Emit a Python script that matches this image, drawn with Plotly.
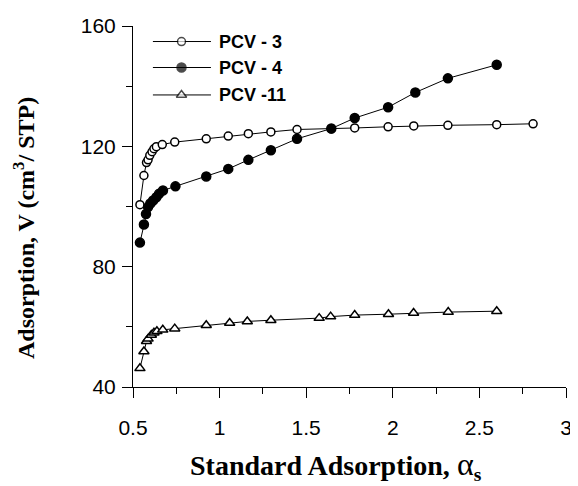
import plotly.graph_objects as go

# ---- data ----
pcv3_x = [0.54, 0.563, 0.578, 0.587, 0.597, 0.61, 0.621, 0.635, 0.669, 0.741, 0.923, 1.05, 1.166, 1.296, 1.447, 1.645, 1.78, 1.973, 2.121, 2.318, 2.6, 2.81]
pcv3_y = [100.6, 110.3, 114.6, 115.5, 117.0, 118.2, 119.2, 119.9, 120.6, 121.4, 122.5, 123.4, 124.2, 124.8, 125.6, 125.8, 126.1, 126.5, 126.8, 127.0, 127.2, 127.5]

pcv4_x = [0.54, 0.563, 0.575, 0.587, 0.6, 0.616, 0.635, 0.65, 0.673, 0.745, 0.923, 1.05, 1.166, 1.296, 1.447, 1.645, 1.78, 1.973, 2.13, 2.318, 2.6]
pcv4_y = [88.0, 94.0, 97.5, 99.8, 101.0, 102.0, 103.1, 104.2, 105.3, 106.7, 110.0, 112.5, 115.5, 118.7, 122.5, 125.9, 129.4, 133.0, 137.9, 142.6, 147.1]

pcv11_x = [0.54, 0.563, 0.578, 0.587, 0.606, 0.621, 0.638, 0.672, 0.741, 0.923, 1.058, 1.16, 1.296, 1.575, 1.641, 1.78, 1.975, 2.12, 2.32, 2.6]
pcv11_y = [46.2, 51.8, 55.2, 56.0, 57.3, 58.0, 58.5, 59.0, 59.4, 60.5, 61.3, 61.8, 62.2, 62.9, 63.4, 63.9, 64.2, 64.6, 64.9, 65.2]

series_names = ["PCV - 3", "PCV - 4", "PCV -11"]

x_ticks = [0.5, 1, 1.5, 2, 2.5, 3]
x_tick_labels = ["0.5", "1", "1.5", "2", "2.5", "3"]
y_ticks = [40, 80, 120, 160]
y_tick_labels = ["40", "80", "120", "160"]

x_title = "<b>Standard Adsorption, </b><span style='font-size:32px'>α</span><b><sub>s</sub></b>"
y_title = "<b>Adsorption, V (cm<sup>3</sup>/ STP)</b>"

# ---- styles ----
styles = [
    dict(symbol="circle", color="white", size=8),
    dict(symbol="circle", color="black", size=9),
    dict(symbol="triangle-up", color="white", size=9),
]

fig = go.Figure()
for (xs, ys), st, name in zip([(pcv3_x, pcv3_y), (pcv4_x, pcv4_y), (pcv11_x, pcv11_y)], styles, series_names):
    fig.add_trace(go.Scatter(
        x=xs, y=ys, mode="lines+markers", name=name, showlegend=False,
        line=dict(color="black", width=1),
        marker=dict(symbol=st["symbol"], color=st["color"], size=st["size"],
                    line=dict(color="black", width=1.5)),
    ))

# ---- manual legend on an overlay axis (0..1 in plot area) ----
leg_rows = [0.957, 0.885, 0.809]
for st, name, yy in zip(styles, series_names, leg_rows):
    fig.add_trace(go.Scatter(
        x=[0.046, 0.112, 0.18], y=[yy, yy, yy], xaxis="x2", yaxis="y2",
        mode="lines+markers", showlegend=False, hoverinfo="skip",
        line=dict(color="black", width=1),
        marker=dict(symbol=st["symbol"], color=st["color"], size=[0, st["size"], 0],
                    line=dict(color="black", width=[0, 1.5, 0])),
    ))
    fig.add_annotation(x=0.193, y=yy, xref="x2", yref="y2", text="<b>" + name + "</b>",
                       showarrow=False, xanchor="left", yanchor="middle",
                       font=dict(family="Liberation Sans, Arial", size=18, color="black"))

axis_font = dict(family="Liberation Sans, Arial", size=21, color="black")
serif = "Liberation Serif, Times New Roman"

# axis titles as annotations for exact placement
fig.add_annotation(x=0.469, y=-0.218, xref="paper", yref="paper", text=x_title,
                   showarrow=False, xanchor="center", yanchor="middle",
                   font=dict(family=serif, size=28, color="black"))
fig.add_annotation(x=-0.252, y=0.44, xref="paper", yref="paper", text=y_title,
                   showarrow=False, xanchor="center", yanchor="middle", textangle=-90,
                   font=dict(family=serif, size=24, color="black"))

# page body has an 8px margin, so the figure is sized to fit the window
fig.update_layout(
    width=570, height=478,
    margin=dict(l=125, r=6, t=14, b=99),
    paper_bgcolor="white", plot_bgcolor="white",
    showlegend=False,
    xaxis=dict(range=[0.5, 3], tickvals=x_ticks, ticktext=x_tick_labels,
               showline=True, linecolor="black", linewidth=1, mirror=False,
               ticks="outside", ticklen=10, tickwidth=1, tickcolor="black",
               minor=dict(dtick=0.25, ticks="outside", ticklen=6, tickcolor="black", tickwidth=1),
               showgrid=False, zeroline=False, tickfont=axis_font,
               ticklabelstandoff=12),
    yaxis=dict(range=[40, 160], tickvals=y_ticks, ticktext=y_tick_labels,
               showline=True, linecolor="black", linewidth=1, mirror=False,
               ticks="outside", ticklen=10, tickwidth=1, tickcolor="black",
               minor=dict(dtick=20, ticks="outside", ticklen=6, tickcolor="black", tickwidth=1),
               showgrid=False, zeroline=False, tickfont=axis_font,
               ticklabelstandoff=2),
    xaxis2=dict(range=[0, 1], overlaying="x", visible=False, fixedrange=True),
    yaxis2=dict(range=[0, 1], overlaying="y", visible=False, fixedrange=True),
)

fig.write_html("out.html")
